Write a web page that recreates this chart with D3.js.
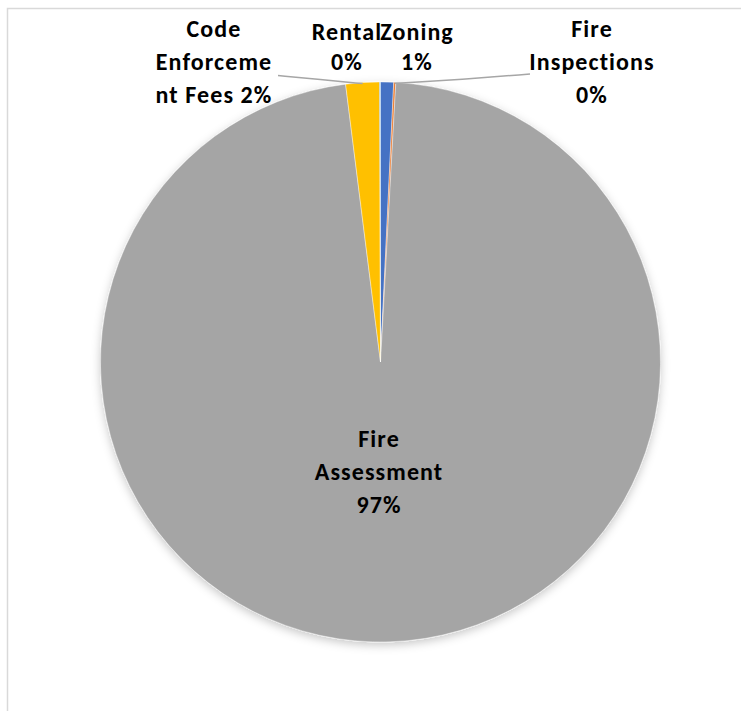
<!DOCTYPE html>
<html>
<head>
<meta charset="utf-8">
<script src="https://cdn.jsdelivr.net/npm/d3@7"></script>
<style>
  html, body { margin: 0; padding: 0; background: #fff; }
  svg { display: block; }
  text { font-family: Carlito, Calibri, Lato, "Open Sans", sans-serif; font-weight: 700; fill: #000; }
</style>
</head>
<body>
<svg id="chart" width="741" height="711"></svg>
<script>
// Data (share of revenue, in percent)
const categories = ["Zoning", "Fire Inspections", "Fire Assessment", "Code Enforcement Fees", "Rental"];
const values = [0.75, 0.12, 97.14, 1.94, 0.05];
const colors = ["#4472C4", "#ED7D31", "#A5A5A5", "#FFC000", "#5B9BD5"];
// label lines as Excel wrapped them
const labelLines = [
  ["Zoning", "1%"],
  ["Fire", "Inspections", "0%"],
  ["Fire", "Assessment", "97%"],
  ["Code", "Enforceme", "nt Fees 2%"],
  ["Rental", "0%"]
];

const W = 741, H = 711;
const svg = d3.select("#chart");

// chart area border
svg.append("rect")
  .attr("x", 7.5).attr("y", 8.5)
  .attr("width", W + 20).attr("height", H + 20)
  .attr("fill", "#fff").attr("stroke", "#d9d9d9").attr("stroke-width", 1.5);

const defs = svg.append("defs");
const f = defs.append("filter").attr("id", "shadow")
  .attr("x", "-10%").attr("y", "-10%").attr("width", "120%").attr("height", "120%");
f.append("feDropShadow").attr("dx", 0).attr("dy", 3).attr("stdDeviation", 5)
  .attr("flood-color", "#000").attr("flood-opacity", 0.22);

const cx = 380.5, cy = 362, r = 280;
const pie = d3.pie().sort(null).value(d => d)(values);
const arc = d3.arc().innerRadius(0).outerRadius(r);

const g = svg.append("g").attr("transform", `translate(${cx},${cy})`);
g.append("g").attr("filter", "url(#shadow)")
  .selectAll("path").data(pie).enter().append("path")
  .attr("d", arc)
  .attr("fill", (d, i) => colors[i])
  .attr("stroke", "#fff").attr("stroke-width", 0.4);

// leader lines (Code Enforcement and Fire Inspections)
const lineArc = d3.arc().innerRadius(r - 1).outerRadius(r - 1);
function leader(i, x2, y2) {
  const [px, py] = lineArc.centroid(pie[i]);
  svg.append("path")
    .attr("d", d3.line().curve(d3.curveBasis)([[cx + px, cy + py], [(cx + px + x2) / 2, cy + py - 4], [x2, y2]]))
    .attr("fill", "none").attr("stroke", "#a6a6a6").attr("stroke-width", 1.5);
}
leader(3, 278, 75.5);
leader(1, 530, 74);

// label anchors: center x and first baseline
const labelPos = [
  { x: 417, y: 40 },
  { x: 592, y: 37 },
  { x: 379, y: 447 },
  { x: 214, y: 37 },
  { x: 347, y: 40 }
];
const lineGap = [30, 33, 33, 33, 30];

labelLines.forEach((lines, i) => {
  const t = svg.append("text")
    .attr("text-anchor", "middle")
    .attr("font-size", 24)
    .attr("letter-spacing", 1.1);
  lines.forEach((s, k) => {
    t.append("tspan").attr("x", labelPos[i].x).attr("y", labelPos[i].y + k * lineGap[i]).text(s);
  });
});
</script>
</body>
</html>
